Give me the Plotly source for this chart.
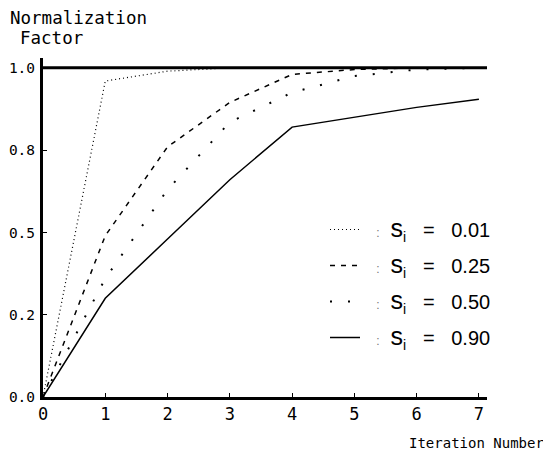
import plotly.graph_objects as go

iterations = [0, 1, 2, 3, 4, 5, 6, 7]
s_001 = [0.0, 0.96, 0.99, 1.0, 1.0, 1.0, 1.0, 1.0]
s_025 = [0.0, 0.49, 0.76, 0.895, 0.98, 0.995, 1.0, 1.0]
s_050 = [0.0, 0.36, 0.63, 0.835, 0.925, 0.975, 0.995, 1.0]
s_090 = [0.0, 0.30, 0.48, 0.66, 0.82, 0.85, 0.88, 0.905]
series_labels = ["0.01", "0.25", "0.50", "0.90"]

y_tickvals = [0.0, 0.25, 0.5, 0.75, 1.0]
y_ticktext = ["0.0", "0.2", "0.5", "0.8", "1.0"]
x_tickvals = [0, 1, 2, 3, 4, 5, 6, 7]
x_ticktext = ["0", "1", "2", "3", "4", "5", "6", "7"]

MONO = "DejaVu Sans Mono"
SANS = "Liberation Sans"

styles = [
    dict(dash="1px,3px", width=1.2),
    dict(dash="5px,6px", width=1.5),
    dict(dash="2px,16px", width=2),
    dict(dash="solid", width=1.5),
]

FIG_W, FIG_H = 543, 450
M_L, M_R, M_T, M_B = 35, 64, 50, 61
W_PLOT = FIG_W - M_L - M_R
H_PLOT = FIG_H - M_T - M_B

NB = "\u00a0"
fig = go.Figure()
for i, (vals, lab, st) in enumerate(zip([s_001, s_025, s_050, s_090], series_labels, styles)):
    name = (NB * 2 + '<span style="font-size:12px;color:#777">:</span>' + NB * 2 +
            '<span style="font-size:25px">s</span><sub>i</sub>' + NB * 3 + "=" + NB * 3 + lab)
    fig.add_trace(go.Scatter(
        x=iterations, y=vals, mode="lines", name=name,
        legendgroup=f"g{i}",
        line=dict(color="black", width=st["width"], dash=st["dash"]),
    ))

fig.add_hline(y=1.0, line=dict(color="black", width=3))

fig.update_layout(
    width=FIG_W, height=FIG_H,
    margin=dict(l=M_L, r=M_R, t=M_T, b=M_B),
    paper_bgcolor="white", plot_bgcolor="white",
    showlegend=True,
    legend=dict(
        x=(317 - M_L) / W_PLOT, y=1 - (202 - M_T) / H_PLOT, xanchor="left", yanchor="top",
        font=dict(family=SANS, size=20, color="black"),
        tracegroupgap=7, bgcolor="rgba(0,0,0,0)", borderwidth=0,
    ),
    xaxis=dict(
        range=[0, 7.13], tickvals=x_tickvals, ticktext=x_ticktext, automargin=False,
        showgrid=False, zeroline=False, showline=True, linecolor="black", linewidth=3,
        ticks="inside", ticklen=4, tickcolor="black", tickwidth=1,
        tickfont=dict(family=MONO, size=17, color="black"),
    ),
    yaxis=dict(
        range=[0, 1.03], tickvals=y_tickvals, ticktext=y_ticktext, automargin=False,
        ticklabelstandoff=2,
        showgrid=False, zeroline=False, showline=True, linecolor="black", linewidth=3,
        ticks="inside", ticklen=4, tickcolor="black", tickwidth=1,
        tickfont=dict(family=MONO, size=14.5, color="black"),
    ),
    annotations=[
        dict(text="Normalization", xref="paper", yref="paper", x=-M_L / W_PLOT, y=1 + (M_T - 10) / H_PLOT,
             xanchor="left", yanchor="middle", showarrow=False,
             font=dict(family=MONO, size=17.5, color="black")),
        dict(text="Factor", xref="paper", yref="paper", x=(10 - M_L) / W_PLOT, y=1 + (M_T - 30) / H_PLOT,
             xanchor="left", yanchor="middle", showarrow=False,
             font=dict(family=MONO, size=17.5, color="black")),
        dict(text="Iteration Number", xref="paper", yref="paper", x=1 + (M_R - 5) / W_PLOT,
             y=-(435 - (FIG_H - M_B)) / H_PLOT,
             xanchor="right", yanchor="middle", showarrow=False,
             font=dict(family=MONO, size=14, color="black")),
    ],
)

fig.write_html("out.html")
